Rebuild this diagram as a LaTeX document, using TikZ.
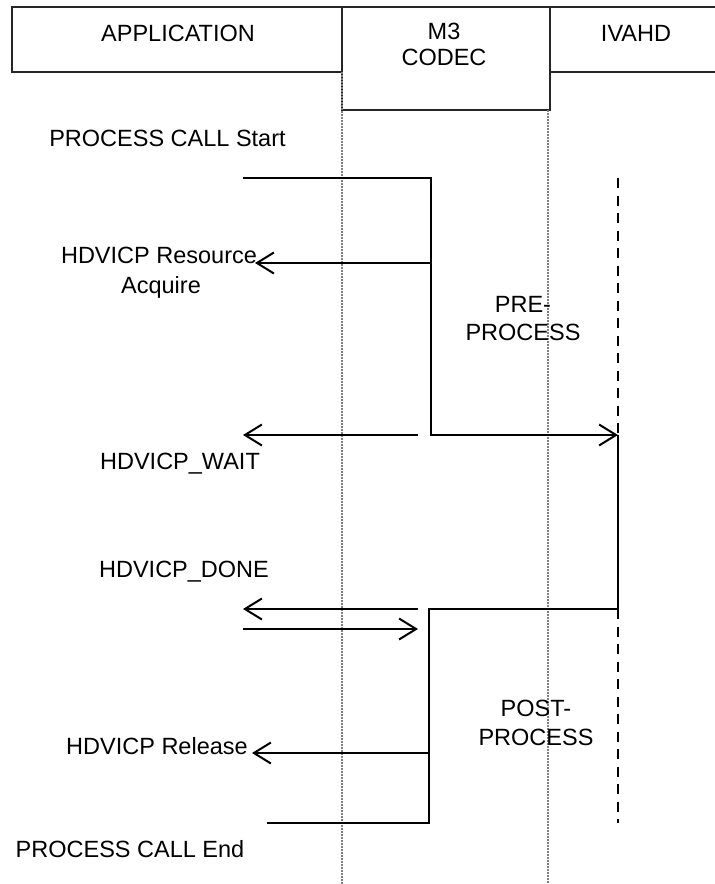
\documentclass[tikz,border=0pt]{standalone}
\usepackage{fontspec}
\setmainfont{Liberation Sans}
\usetikzlibrary{arrows.meta}
\begin{document}
\begin{tikzpicture}[x=1pt,y=-1pt,
  lbl/.style={font=\fontsize{23.5}{28}\selectfont, inner sep=0pt, anchor=base},
  hdrbox/.style={draw=black!85, line width=1.2pt, inner sep=0pt},
  flow/.style={line width=2pt, line join=miter},
  msg/.style={line width=2pt, -{Straight Barb[length=17pt,width=21pt,line width=2pt]}},
  lifeline/.style={draw=black!50, line width=1.6pt, dash pattern=on 1.5pt off 1.5pt},
  ivadash/.style={line width=2.2pt, dash pattern=on 10pt off 7.5pt}
]
\useasboundingbox (0,0) rectangle (715,884);
\fill[white] (0,0) rectangle (715,884);

% header boxes
\node[hdrbox, minimum width=330pt, minimum height=65pt] (appbox) at (177,39.5) {};
\node[hdrbox, minimum width=208pt, minimum height=103pt] (m3box) at (446,58.5) {};
\node[hdrbox, minimum width=190pt, minimum height=65pt, anchor=west] (ivabox) at (550,39.5) {};

\node[lbl] (tapp) at (178,41) {APPLICATION};
\node[lbl] (tm3) at (444,39) {M3};
\node[lbl] (tcodec) at (444,65.5) {CODEC};
\node[lbl] (tiva) at (636,41) {IVAHD};

% lifelines (dotted)
\coordinate (llA1) at (342,72);
\coordinate (llA2) at (342,884);
\coordinate (llB1) at (548,110);
\coordinate (llB2) at (548,884);
\draw[lifeline] (llA1) -- (llA2);
\draw[lifeline] (llB1) -- (llB2);

% labels
\node[lbl] (tstart) at (167.5,146) {PROCESS CALL Start};
\node[lbl] (tres1) at (159,263) {HDVICP Resource};
\node[lbl] (tres2) at (161,293) {Acquire};
\node[lbl] (tpre1) at (523,312) {PRE-};
\node[lbl] (tpre2) at (523,340) {PROCESS};
\node[lbl] (twait) at (180,469) {HDVICP\_WAIT};
\node[lbl] (tdone) at (184,577) {HDVICP\_DONE};
\node[lbl] (tpost1) at (536,716) {POST-};
\node[lbl] (tpost2) at (536,745) {PROCESS};
\node[lbl] (trel) at (157,754) {HDVICP Release};
\node[lbl] (tend) at (130,857) {PROCESS CALL End};

% coordinates
\coordinate (callS) at (243,178);
\coordinate (m3a) at (431,178);
\coordinate (m3b) at (431,435);
\coordinate (ivaIn) at (618,435);
\coordinate (acqA) at (431,263);
\coordinate (acqB) at (255,263);
\coordinate (waitA) at (418,435);
\coordinate (waitB) at (243,435);
\coordinate (ivaTop) at (618,178);
\coordinate (ivaOut) at (618,609);
\coordinate (ivaBot) at (618,823);
\coordinate (m3c) at (429,609);
\coordinate (m3d) at (429,823);
\coordinate (callE) at (267,823);
\coordinate (doneA) at (418,609);
\coordinate (doneB) at (243,609);
\coordinate (retA) at (243,629);
\coordinate (retB) at (418,629);
\coordinate (relA) at (429,753);
\coordinate (relB) at (252,753);

% IVAHD activity
\draw[ivadash] (ivaTop) -- (ivaIn);
\draw[flow] (ivaIn) -- (ivaOut);
\draw[ivadash] (ivaOut) -- (ivaBot);

% codec flow
\draw[flow] (callS) -- (m3a) -- (m3b) -- ([xshift=-16pt]ivaIn);
\draw[msg] (m3b) -- (ivaIn);
\draw[flow] (ivaOut) -- (m3c) -- (m3d) -- (callE);

% messages
\draw[msg] (acqA) -- (acqB);
\draw[msg] (waitA) -- (waitB);
\draw[msg] (doneA) -- (doneB);
\draw[msg] (retA) -- (retB);
\draw[msg] (relA) -- (relB);
\end{tikzpicture}
\end{document}
